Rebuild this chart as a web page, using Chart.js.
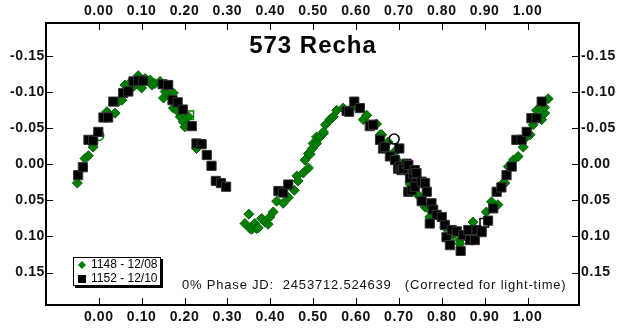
<!DOCTYPE html>
<html>
<head>
<meta charset="utf-8">
<title>573 Recha</title>
<script src="https://cdn.jsdelivr.net/npm/chart.js"></script>
<style>
  body { margin: 0; background: #fff; }
  #wrap { width: 623px; height: 334px; }
</style>
</head>
<body>
<div id="wrap"><canvas id="lc"></canvas></div>
<script>
// session 1148 - 12/08 (green diamonds)
const greenPhase = [-0.050, -0.032, -0.024, -0.013, 0.019, 0.026, 0.038, 0.046, 0.054, 0.061, 0.071, 0.081, 0.092, 0.100, 0.108, 0.120, 0.124, 0.131, 0.143, 0.151, 0.155, 0.166, 0.174, 0.174, 0.182, 0.190, 0.197, 0.201, 0.209, 0.228,
  0.341, 0.350, 0.353, 0.357, 0.364, 0.368, 0.372, 0.380, 0.388, 0.395, 0.399, 0.407, 0.415, 0.430, 0.442, 0.456, 0.462, 0.465, 0.477, 0.481, 0.489, 0.489, 0.493, 0.498, 0.500, 0.508, 0.508, 0.516, 0.524, 0.524, 0.529, 0.539, 0.543, 0.547, 0.555, 0.570, 0.590,
  0.617, 0.625, 0.644, 0.648, 0.656, 0.660, 0.675, 0.691, 0.693, 0.698, 0.714, 0.726, 0.726, 0.741, 0.745, 0.761, 0.768, 0.772, 0.807, 0.827, 0.842, 0.842, 0.873,
  0.904, 0.916, 0.931, 0.943, 0.947, 0.955, 0.967, 0.978, 0.990, 0.994, 1.006, 1.013, 1.021, 1.033, 1.040, 1.040, 1.048];
const greenMag = [0.026, -0.008, -0.012, -0.024, -0.073, -0.068, -0.071, -0.087, -0.089, -0.110, -0.112, -0.108, -0.123, -0.106, -0.119, -0.117, -0.110, -0.112, -0.115, -0.092, -0.101, -0.094, -0.099, -0.078, -0.075, -0.066, -0.059, -0.052, -0.066, -0.022,
  0.082, 0.069, 0.089, 0.090, 0.082, 0.089, 0.088, 0.075, 0.080, 0.083, 0.073, 0.066, 0.051, 0.054, 0.046, 0.036, 0.016, 0.023, 0.012, -0.006, 0.005, -0.015, -0.014, -0.022, -0.029, -0.029, -0.038, -0.038, -0.043, -0.045, -0.055, -0.062, -0.064, -0.066, -0.075, -0.078, -0.078,
  -0.062, -0.068, -0.055, -0.056, -0.041, -0.041, -0.031, -0.018, -0.018, -0.004, 0.008, 0.024, 0.027, 0.040, 0.043, 0.059, 0.061, 0.073, 0.087, 0.098, 0.105, 0.110, 0.080,
  0.066, 0.052, 0.056, 0.026, 0.026, 0.003, -0.006, -0.011, -0.024, -0.036, -0.041, -0.055, -0.075, -0.062, -0.071, -0.079, -0.091];

// session 1152 - 12/10 (black squares)
const blackPhase = [-0.048, -0.037, -0.024, -0.013, -0.001, 0.011, 0.022, 0.034, 0.057, 0.069, 0.081, 0.092, 0.104, 0.149, 0.162, 0.172, 0.184, 0.196, 0.217, 0.228, 0.240, 0.252, 0.263, 0.273, 0.285, 0.297,
  0.419, 0.430, 0.442, 0.578, 0.584, 0.596, 0.609, 0.632, 0.640, 0.656, 0.663, 0.667, 0.679, 0.691, 0.701, 0.698, 0.702, 0.706, 0.710, 0.718, 0.722, 0.726, 0.722, 0.730, 0.733, 0.737, 0.741, 0.741, 0.737, 0.753, 0.761, 0.753, 0.765,
  0.776, 0.780, 0.788, 0.800, 0.772, 0.807, 0.811, 0.823, 0.835, 0.819, 0.844, 0.850, 0.862, 0.866, 0.877, 0.881, 0.893, 0.908, 0.920, 0.928, 0.939, 0.951, 0.963, 0.974, 0.986, 0.998, 1.009, 1.021, 1.033];
const blackMag = [0.015, 0.004, -0.034, -0.033, -0.045, -0.065, -0.065, -0.087, -0.099, -0.101, -0.115, -0.116, -0.116, -0.111, -0.110, -0.089, -0.086, -0.076, -0.053, -0.029, -0.028, -0.013, 0.002, 0.023, 0.026, 0.031,
  0.037, 0.039, 0.028, -0.074, -0.073, -0.087, -0.078, -0.053, -0.055, -0.034, -0.022, -0.024, -0.011, -0.006, -0.022, 0.006, 0.003, 0.008, 0.006, -0.001, 0.001, 0.019, 0.038, 0.036, 0.013, 0.008, 0.012, 0.026, 0.031, 0.024, 0.026, 0.051, 0.038,
  0.054, 0.063, 0.070, 0.073, 0.082, 0.084, 0.101, 0.091, 0.093, 0.112, 0.120, 0.098, 0.091, 0.105, 0.105, 0.091, 0.094, 0.078, 0.061, 0.038, 0.032, 0.015, 0.003, -0.034, -0.034, -0.045, -0.064, -0.064, -0.087];

// hollow markers (comparison / rejected points)
const greenOpenCircle = [{ x: 0.000, y: -0.040 }];
const greenOpenSquare = [{ x: 0.211, y: -0.068 }];
const blackOpenCircle = [{ x: 0.689, y: -0.035 }];
const blackOpenSquare = [{ x: 0.899, y: 0.081 }];

const xTicks = [0.0, 0.1, 0.2, 0.3, 0.4, 0.5, 0.6, 0.7, 0.8, 0.9, 1.0];
const yTicks = [-0.15, -0.10, -0.05, 0.00, 0.05, 0.10, 0.15];
const legendLabels = ['1148 - 12/08', '1152 - 12/10'];

const FONT = 'Liberation Sans, Arial, sans-serif';
const toPts = (xs, ys) => xs.map((x, i) => ({ x: x, y: ys[i] }));

const xOpts = (pos, h) => ({
  type: 'linear', position: pos, min: -0.123, max: 1.12,
  afterBuildTicks: s => { s.ticks = xTicks.map(v => ({ value: v })); },
  afterFit: s => { s.height = h; },
  grid: { display: false, drawTicks: false },
  border: { display: true, color: '#000', width: 2 },
  ticks: { padding: pos === 'top' ? 3 : 4, color: '#111', font: { family: FONT, size: 14, weight: 'bold' },
    callback: v => v.toFixed(2) }
});
const yOpts = (pos, w) => ({
  type: 'linear', position: pos, min: -0.196, max: 0.195, reverse: true,
  afterBuildTicks: s => { s.ticks = yTicks.map(v => ({ value: v })); },
  afterFit: s => { s.width = w; },
  grid: { display: false, drawTicks: false },
  border: { display: true, color: '#000', width: 2 },
  ticks: { padding: pos === 'left' ? 1 : 2, color: '#111', font: { family: FONT, size: 14, weight: 'bold' },
    callback: v => v.toFixed(2) }
});

// inward tick marks, title, legend box and footer text
const decorations = {
  id: 'decorations',
  beforeDraw(chart) {
    chart.ctx.letterSpacing = '0.6px';
  },
  afterDraw(chart) {
    const ctx = chart.ctx;
    const a = chart.chartArea;
    const sc = chart.scales;
    ctx.save();
    ctx.strokeStyle = '#000';
    ctx.lineWidth = 1;
    ctx.beginPath();
    xTicks.forEach(v => {
      const px = Math.round(sc.x.getPixelForValue(v)) + 0.5;
      ctx.moveTo(px, a.bottom); ctx.lineTo(px, a.bottom - 7);
      ctx.moveTo(px, a.top); ctx.lineTo(px, a.top + 7);
    });
    yTicks.forEach(v => {
      const py = Math.round(sc.y.getPixelForValue(v)) + 0.5;
      ctx.moveTo(a.left, py); ctx.lineTo(a.left + 7, py);
      ctx.moveTo(a.right, py); ctx.lineTo(a.right - 7, py);
    });
    ctx.stroke();

    // title
    ctx.fillStyle = '#000';
    ctx.font = 'bold 24px ' + FONT;
    ctx.letterSpacing = '1px';
    ctx.textAlign = 'center';
    ctx.textBaseline = 'alphabetic';
    ctx.fillText('573 Recha', 313, 53);

    // legend
    const lx = 73, ly = 257, lw = 88, lh = 29;
    ctx.fillStyle = '#000';
    ctx.fillRect(lx + 2, ly + 2, lw, lh);
    ctx.fillStyle = '#fff';
    ctx.fillRect(lx, ly, lw, lh);
    ctx.strokeRect(lx + 0.5, ly + 0.5, lw - 1, lh - 1);
    ctx.fillStyle = '#008000';
    ctx.beginPath();
    ctx.moveTo(82, 261); ctx.lineTo(86, 265); ctx.lineTo(82, 269); ctx.lineTo(78, 265);
    ctx.closePath(); ctx.fill();
    ctx.fillStyle = '#000';
    ctx.fillRect(78, 275, 8, 8);
    ctx.letterSpacing = '0px';
    ctx.font = '12px ' + FONT;
    ctx.textAlign = 'left';
    ctx.textBaseline = 'middle';
    ctx.fillText(legendLabels[0], 91, 265);
    ctx.fillText(legendLabels[1], 91, 279);

    // footer
    ctx.letterSpacing = '0.8px';
    ctx.font = '13px ' + FONT;
    ctx.fillStyle = '#111';
    ctx.textBaseline = 'alphabetic';
    ctx.fillText('0% Phase JD:  2453712.524639   (Corrected for light-time)', 182, 289);
    ctx.restore();
  }
};

new Chart(document.getElementById('lc'), {
  type: 'scatter',
  data: {
    datasets: [
      { label: legendLabels[0], data: toPts(greenPhase, greenMag), pointStyle: 'rectRot', pointRadius: 5, order: 3,
        backgroundColor: '#008000', borderColor: '#0b5e0b', borderWidth: 1 },
      { label: 'g-open-circle', data: greenOpenCircle, pointStyle: 'circle', pointRadius: 5, order: 2,
        backgroundColor: 'rgba(0,0,0,0)', borderColor: '#008000', borderWidth: 1.5 },
      { label: 'g-open-square', data: greenOpenSquare, pointStyle: 'rect', pointRadius: 6, order: 2,
        backgroundColor: 'rgba(0,0,0,0)', borderColor: '#008000', borderWidth: 1.5 },
      { label: legendLabels[1], data: toPts(blackPhase, blackMag), pointStyle: 'rect', pointRadius: 6.5, order: 1,
        backgroundColor: '#000', borderColor: '#333', borderWidth: 1 },
      { label: 'b-open-circle', data: blackOpenCircle, pointStyle: 'circle', pointRadius: 5, order: 0,
        backgroundColor: 'rgba(0,0,0,0)', borderColor: '#000', borderWidth: 1.5 },
      { label: 'b-open-square', data: blackOpenSquare, pointStyle: 'rect', pointRadius: 6, order: 0,
        backgroundColor: 'rgba(0,0,0,0)', borderColor: '#000', borderWidth: 1.5 }
    ]
  },
  options: {
    responsive: true,
    maintainAspectRatio: false,
    animation: false,
    layout: { padding: 0 },
    plugins: { legend: { display: false }, tooltip: { enabled: false } },
    scales: {
      x: xOpts('bottom', 29),
      x2: xOpts('top', 23),
      y: yOpts('left', 46),
      y2: yOpts('right', 44)
    }
  },
  plugins: [decorations]
});
</script>
</body>
</html>
